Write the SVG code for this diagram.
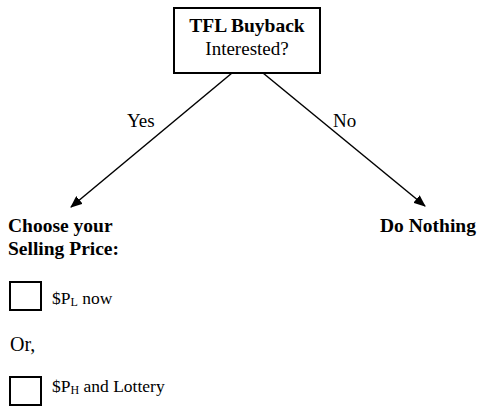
<svg xmlns="http://www.w3.org/2000/svg" width="477" height="406" viewBox="0 0 477 406">
<style>
text,tspan{font-family:"Liberation Serif","Times New Roman",serif;fill:#000}
.b{font-family:"Liberation Serif","Times New Roman",serif;font-weight:bold;font-size:19.5px}
.r{font-family:"Liberation Serif","Times New Roman",serif;font-size:19px}
.s{font-family:"Liberation Serif","Times New Roman",serif;font-size:17.5px}
.sub{font-size:12px}
.box{fill:#fff;stroke:#000;stroke-width:2}
.edge{stroke:#000;stroke-width:1.5;fill:none;marker-end:url(#ah)}
</style>
<defs>
<marker id="ah" viewBox="0 0 12 10" refX="11" refY="5" markerWidth="12" markerHeight="10" markerUnits="userSpaceOnUse" orient="auto">
<path d="M0,0 L12,5 L0,10 Z" fill="#000"/>
</marker>
</defs>
<rect width="477" height="406" fill="#fff"/>
<g id="connectors">
<line class="edge" x1="232" y1="73" x2="71" y2="207"/>
<line class="edge" x1="263" y1="73" x2="425" y2="206"/>
<text class="r" x="127" y="127">Yes</text>
<text class="r" x="333" y="127">No</text>
</g>
<g id="root">
<rect class="box" x="174" y="8" width="146" height="65"/>
<text class="b" x="247" y="32" text-anchor="middle">TFL Buyback</text>
<text class="r" x="247" y="55" text-anchor="middle">Interested?</text>
</g>
<g id="yes">
<text class="b" x="8" y="232">Choose your</text>
<text class="b" x="8" y="255">Selling Price:</text>
<rect class="box" x="10" y="282" width="31" height="28"/>
<text class="s" x="52" y="304">$P<tspan class="sub" dy="2">L</tspan><tspan dy="-2"> now</tspan></text>
<text class="r" x="10" y="351" style="font-size:20px">Or,</text>
<rect class="box" x="10" y="377" width="31" height="28"/>
<text class="s" x="52" y="392">$P<tspan class="sub" dy="2">H</tspan><tspan dy="-2"> and Lottery</tspan></text>
</g>
<g id="no">
<text class="b" x="380" y="232">Do Nothing</text>
</g>
</svg>
